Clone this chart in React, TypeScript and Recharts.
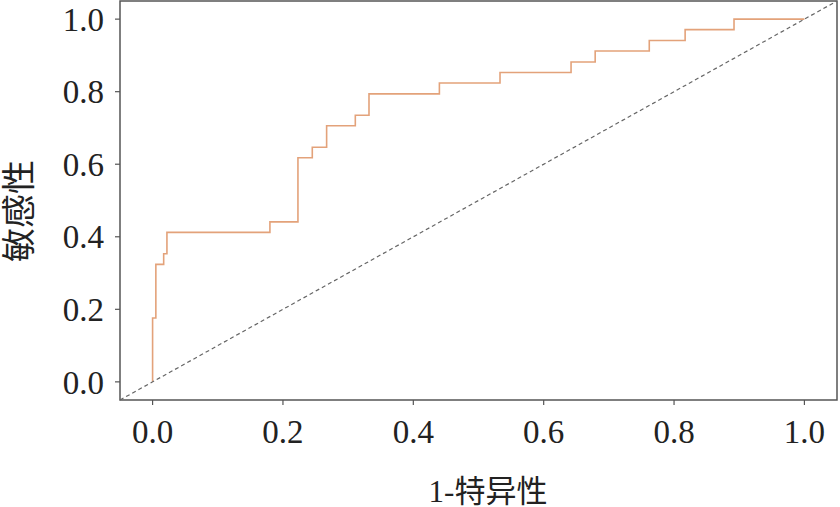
import { LineChart, Line, XAxis, YAxis, ReferenceLine, ReferenceArea } from 'recharts';

// ROC curve corners (false positive rate, sensitivity)
const fpr = [0, 0, 0.005, 0.017, 0.022, 0.18, 0.223, 0.245, 0.267, 0.311, 0.332, 0.44, 0.533, 0.642, 0.679, 0.762, 0.817, 0.892, 1.0];
const tpr = [0, 0.176, 0.324, 0.353, 0.412, 0.441, 0.618, 0.647, 0.706, 0.735, 0.794, 0.824, 0.853, 0.882, 0.912, 0.941, 0.971, 1.0, 1.0];

const xTicks = [0, 0.2, 0.4, 0.6, 0.8, 1.0];
const yTicks = [0, 0.2, 0.4, 0.6, 0.8, 1.0];
const axisDomain = [-0.05, 1.05];

const data = fpr.map((x, i) => ({ x, y: tpr[i] }));

const SERIF = '"Liberation Serif", "Noto Sans CJK SC", serif';
const TEXT = '#222';
const FRAME = '#555';

export default function App() {
  return (
    <div style={{ position: 'absolute', left: 0, top: 0, width: 840, height: 507, background: '#fff' }}>
      <LineChart
        width={840}
        height={507}
        data={data}
        margin={{ top: 1, right: 3, bottom: 0, left: 0 }}
      >
        <XAxis
          dataKey="x"
          type="number"
          domain={axisDomain}
          ticks={xTicks}
          tickFormatter={(v: number) => v.toFixed(1)}
          allowDataOverflow
          axisLine={false}
          tickLine={{ stroke: FRAME, strokeWidth: 1.2 }}
          tickSize={5}
          tickMargin={15}
          height={107}
          tick={{ fill: TEXT, fontSize: 33, fontFamily: SERIF }}
          label={{
            content: () => (
              <text x={488} y={491} textAnchor="middle" dominantBaseline="central"
                fill={TEXT} fontSize={31} fontFamily={SERIF}>
                1-特异性
              </text>
            ),
          }}
        />
        <YAxis
          type="number"
          domain={axisDomain}
          ticks={yTicks}
          tickFormatter={(v: number) => v.toFixed(1)}
          allowDataOverflow
          axisLine={false}
          tickLine={{ stroke: FRAME, strokeWidth: 1.2 }}
          tickSize={5}
          tickMargin={11}
          width={120}
          tick={{ fill: TEXT, fontSize: 33, fontFamily: SERIF }}
          label={{
            content: () => (
              <text x={19} y={211} transform="rotate(-90 19 211)" textAnchor="middle"
                dominantBaseline="central" fill={TEXT} fontSize={34} fontFamily={SERIF}>
                敏感性
              </text>
            ),
          }}
        />
        <ReferenceArea x1={-0.05} x2={1.05} y1={-0.05} y2={1.05} fill="none" stroke={FRAME} strokeWidth={1.5} />
        <Line
          dataKey="y"
          type="stepAfter"
          stroke="#E3A27A"
          strokeWidth={1.6}
          dot={false}
          activeDot={false}
          isAnimationActive={false}
        />
        <ReferenceLine
          segment={[{ x: -0.05, y: -0.05 }, { x: 1.05, y: 1.05 }]}
          stroke="#666"
          strokeWidth={1.2}
          strokeDasharray="4 3"
        />
      </LineChart>
    </div>
  );
}
